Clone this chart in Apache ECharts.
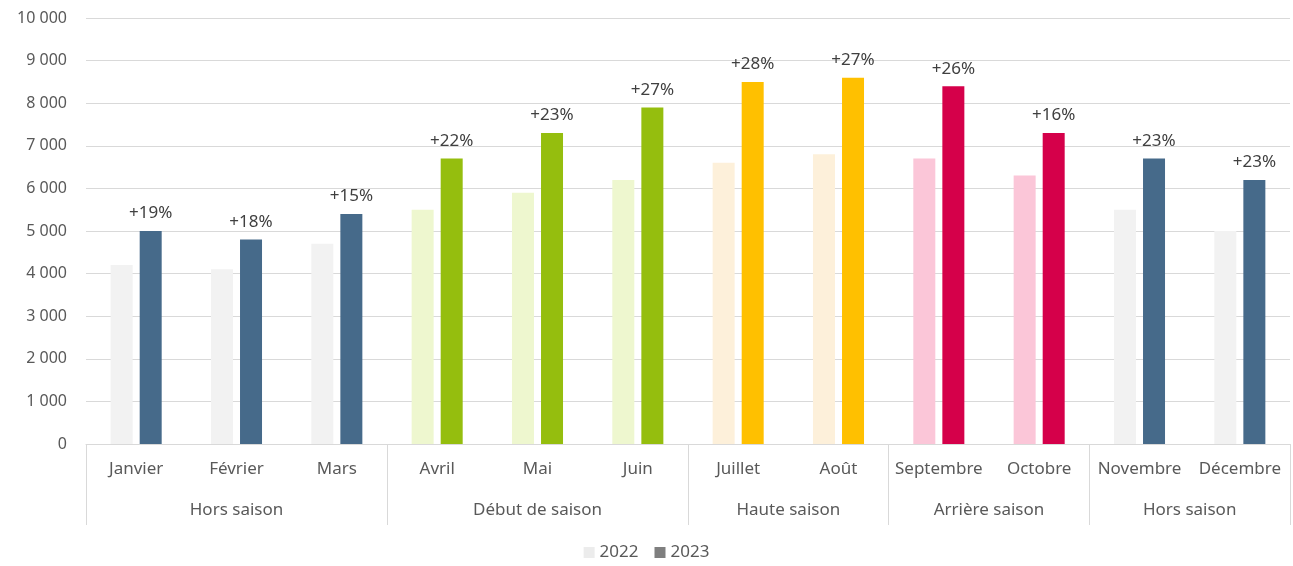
<!DOCTYPE html>
<html>
<head>
<meta charset="utf-8" />
<title>Fréquentation 2022 / 2023</title>
<script src="https://cdn.jsdelivr.net/npm/echarts@6/dist/echarts.min.js"></script>
<style>
	* { margin: 0; padding: 0; }
	html, body { width: 100%; height: 100%; background: #fff; }
	#main { width: 1293px; height: 566px; }
</style>
</head>
<body>
<div id="main"></div>
<script>
var months = ['Janvier', 'Février', 'Mars', 'Avril', 'Mai', 'Juin', 'Juillet', 'Août', 'Septembre', 'Octobre', 'Novembre', 'Décembre'];
var values2022 = [4200, 4100, 4700, 5500, 5900, 6200, 6600, 6800, 6700, 6300, 5500, 5000];
var values2023 = [5000, 4800, 5400, 6700, 7300, 7900, 8500, 8600, 8400, 7300, 6700, 6200];
var evolution = ['+19%', '+18%', '+15%', '+22%', '+23%', '+27%', '+28%', '+27%', '+26%', '+16%', '+23%', '+23%'];
var groupNames = ['Hors saison', 'Début de saison', 'Haute saison', 'Arrière saison', 'Hors saison'];
var groupSizes = [3, 3, 2, 2, 2];
var colors2022 = ['#f2f2f2', '#eef7cf', '#fdf0da', '#fbc6d8', '#f2f2f2'];
var colors2023 = ['#466a8a', '#95be0e', '#ffc000', '#d5004a', '#466a8a'];

// bornes et centres des groupes (en unités de catégories)
var bounds = [0], centers = [], groupOf = [];
groupSizes.forEach(function (n, g) {
	var start = bounds[bounds.length - 1];
	centers.push(start + n / 2);
	bounds.push(start + n);
	for (var i = 0; i < n; i++) groupOf.push(g);
});

var font = 'Noto Sans';
var txt = '#595959';

function fmt(v) {
	return String(v).replace(/\B(?=(\d{3})+(?!\d))/g, ' ');
}

var myChart = echarts.init(document.getElementById('main'));
myChart.setOption({
	animation: false,
	textStyle: { fontFamily: font },
	grid: { left: 86, right: 3, top: 18, bottom: 122 },
	legend: {
		bottom: 0,
		left: 'center',
		itemWidth: 11,
		itemHeight: 11,
		itemGap: 16,
		icon: 'rect',
		textStyle: { color: txt, fontSize: 17, fontFamily: font },
		data: ['2022', '2023']
	},
	xAxis: [{
		type: 'category',
		data: months,
		axisLine: { lineStyle: { color: '#d9d9d9' } },
		axisTick: { show: false },
		axisLabel: { color: txt, fontSize: 17, margin: 17, interval: 0 }
	}, {
		type: 'value',
		min: 0,
		max: months.length,
		position: 'bottom',
		axisLine: { show: false },
		splitLine: { show: false },
		axisTick: {
			show: true,
			customValues: bounds,
			length: 81,
			lineStyle: { color: '#d9d9d9' }
		},
		axisLabel: {
			color: txt,
			fontSize: 17,
			margin: 58,
			customValues: centers,
			formatter: function (v) {
				var i = centers.indexOf(v);
				return i >= 0 ? groupNames[i] : '';
			}
		}
	}],
	yAxis: {
		type: 'value',
		min: 0,
		max: 10000,
		interval: 1000,
		axisLine: { show: false },
		axisTick: { show: false },
		splitLine: { lineStyle: { color: '#d9d9d9' } },
		axisLabel: { color: txt, fontSize: 16, margin: 19, formatter: fmt }
	},
	series: [{
		name: '2022',
		type: 'bar',
		barWidth: 22,
		barGap: '32%',
		itemStyle: { color: '#ececec' },
		data: values2022.map(function (v, i) {
			return { value: v, itemStyle: { color: colors2022[groupOf[i]] } };
		})
	}, {
		name: '2023',
		type: 'bar',
		barWidth: 22,
		itemStyle: { color: '#7f7f7f' },
		label: {
			show: true,
			position: 'top',
			distance: 9,
			color: '#404040',
			fontSize: 17,
			fontFamily: font,
			formatter: function (p) { return evolution[p.dataIndex]; }
		},
		data: values2023.map(function (v, i) {
			return { value: v, itemStyle: { color: colors2023[groupOf[i]] } };
		})
	}]
});
</script>
</body>
</html>
